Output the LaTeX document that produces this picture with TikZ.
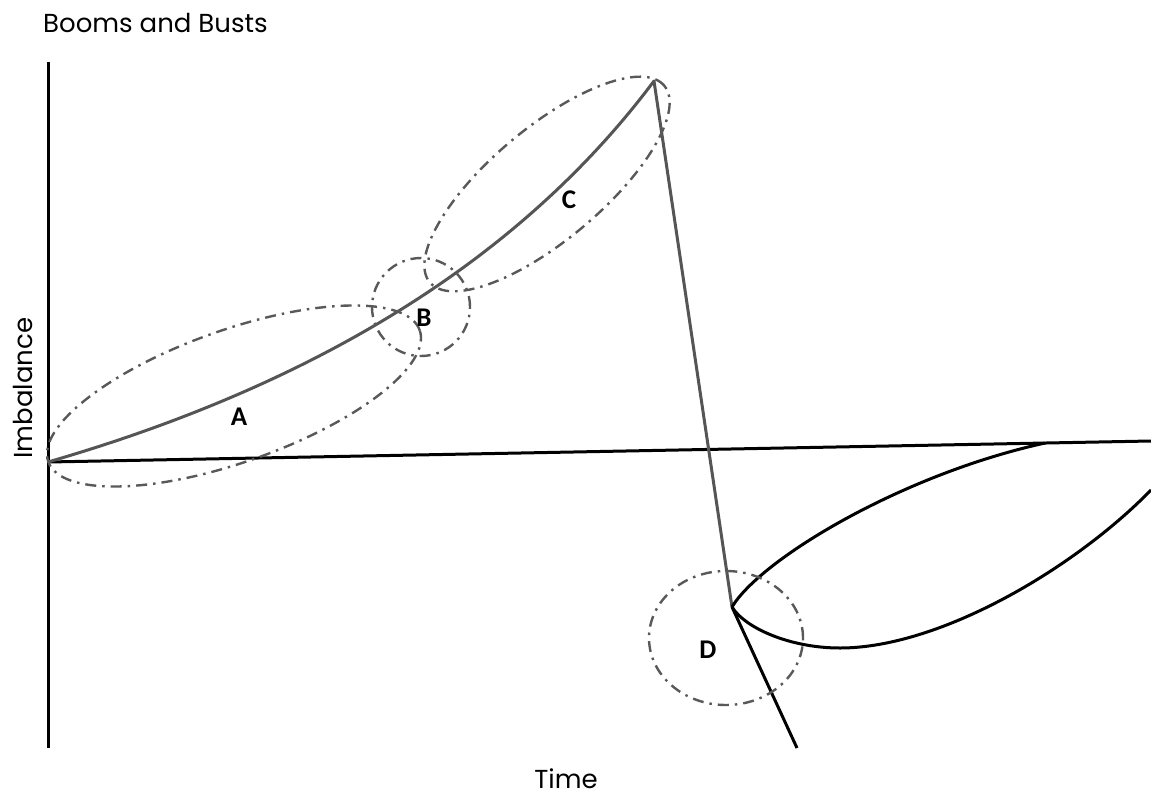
\documentclass[tikz,border=0pt]{standalone}
\usepackage{fontspec}
\setmainfont{Poppins}
\newfontfamily\labfont{Carlito}
\usetikzlibrary{shapes.geometric}
\definecolor{curvegray}{HTML}{555555}
\definecolor{dashgray}{HTML}{595959}
\tikzset{
  axisline/.style={line width=3pt, black},
  graycurve/.style={line width=3pt, curvegray},
  blackcurve/.style={line width=3pt, black, line join=round},
  dashring/.style={draw=dashgray, line width=2.4pt, dash pattern=on 11pt off 6pt on 2.5pt off 6pt, inner sep=0pt, outer sep=0pt},
  lab/.style={font=\labfont\bfseries\fontsize{27}{31}\selectfont, inner sep=0pt},
  axlab/.style={font=\fontsize{26}{30}\selectfont, inner sep=0pt}
}
\begin{document}
\begin{tikzpicture}[x=1pt, y=-1pt]
\useasboundingbox (0,0) rectangle (1151,798);
% key points
\coordinate (Ytop) at (48,62);
\coordinate (Ybot) at (48,748);
\coordinate (O) at (48,462);
\coordinate (R) at (1151,441);
\coordinate (P) at (654,81);
\coordinate (T) at (732,607);
\coordinate (E) at (797,748);
\coordinate (M) at (1045,443);
\coordinate (L) at (840,648);
\coordinate (Q) at (1151,490);
% axes
\draw[axisline] (Ytop) -- (Ybot);
\draw[axisline] (O) -- (R);
% boom curve
\draw[graycurve, line join=round] (O) .. controls (321,383) and (523,256) .. (P) -- (T);
\draw[blackcurve] (T) -- (E);
% loop
\draw[blackcurve] (T) .. controls (760,560) and (900,475) .. (M);
\draw[blackcurve] (T) .. controls (745,628) and (790,648) .. (L) .. controls (940,648) and (1075,568) .. (Q);
% dash-dot rings
\node[dashring, ellipse, minimum width=394pt, minimum height=132pt, rotate=19.5] (ringA) at (234,396) {};
\node[dashring, circle, minimum size=98pt] (ringB) at (421,307) {};
\node[dashring, ellipse, minimum width=306pt, minimum height=112pt, rotate=40] (ringC) at (547,184) {};
\node[dashring, ellipse, minimum width=154pt, minimum height=134pt] (ringD) at (726,638) {};
% labels
\node[lab] (la) at (239,417) {A};
\node[lab] (lb) at (424,318) {B};
\node[lab] (lc) at (569,200) {C};
\node[lab] (ld) at (708,650) {D};
% titles
\node[axlab, anchor=base west] (title) at (43,32) {Booms and Busts};
\node[axlab, anchor=base] (time) at (566,788) {Time};
\node[axlab, rotate=90, anchor=base] (imb) at (32,388) {Imbalance};
\end{tikzpicture}
\end{document}
